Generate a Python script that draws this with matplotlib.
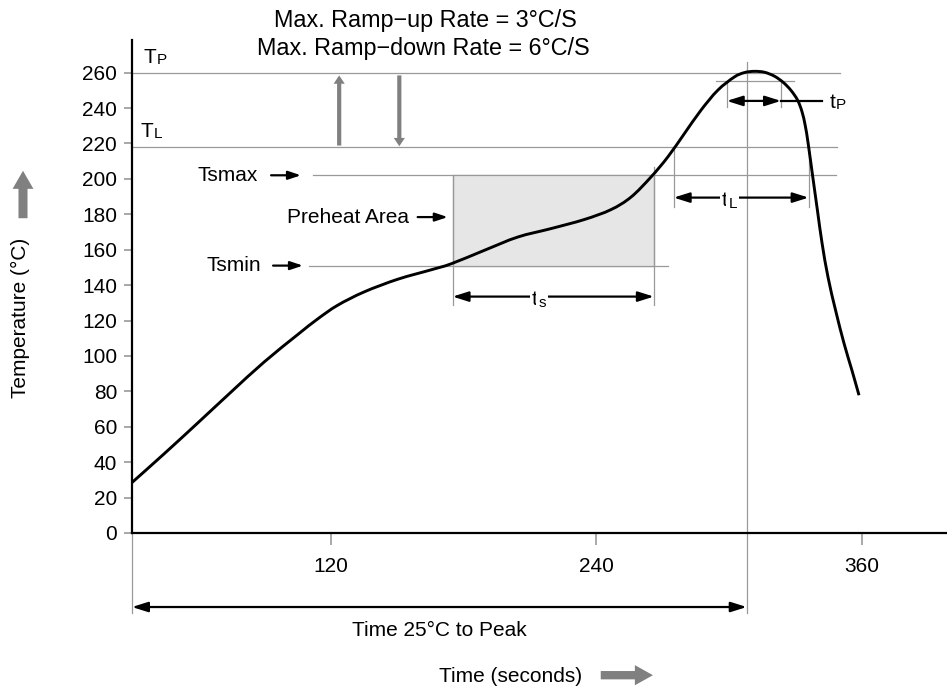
import matplotlib.pyplot as plt
import numpy as np
from matplotlib.path import Path
from matplotlib.patches import PathPatch, FancyArrowPatch

plt.rcParams['font.family'] = ['Liberation Sans', 'DejaVu Sans']
plt.rcParams['font.size'] = 15

# reflow profile
time_s = [30, 44.6, 59.7, 74.8, 89.8, 104.9, 114, 123, 135.1, 150.2, 165.2, 174.3,
          189.3, 204.4, 219.5, 234.5, 246.6, 255.7, 264.7, 272.3, 279.8, 287.3,
          294.9, 302.4, 307, 311.4, 316, 320.5, 324.5, 328, 331, 333, 334.5,
          335.8, 337.9, 340.0, 342.1, 344.8, 348.2, 352.0, 355.6, 358.8]
temp_c = [28.5, 44.8, 62.1, 79.6, 96.6, 112, 120.9, 128.6, 136.2, 143.3, 148.6, 152,
          159.6, 167.1, 171.9, 177, 182.6, 189.7, 201, 212.3, 225.5, 238.7,
          250, 257.5, 260, 260.7, 260.2, 258, 254.5, 250, 244.5, 238, 230,
          220, 201, 182.2, 163.6, 144.4, 125.8, 107.2, 91.9, 77.8]

y_ticks = list(range(0, 261, 20))
x_ticks = [120, 240, 360]

# temperature levels
T_P, T_L, TS_MAX, TS_MIN = 260, 218, 202, 151
T_P_BAND = 255
# time marks
t_start, t_peak = 30, 308
ts_start, ts_end = 175, 266
tl_start, tl_end = 275, 336
tp_start, tp_end = 299, 323.5

GRAY = '#999999'
DARK = '#808080'

fig = plt.figure(figsize=(9.47, 6.92), dpi=100)
ax = fig.add_axes([132 / 947, 159 / 692, 815 / 947, 493 / 692])
ax.set_xlim(30, 398.6)
ax.set_ylim(0, 278.4)

for s in ['top', 'right']:
    ax.spines[s].set_visible(False)
for s in ['left', 'bottom']:
    ax.spines[s].set_linewidth(1.6)
    ax.spines[s].set_color('black')

ax.set_yticks(y_ticks)
ax.set_xticks(x_ticks)
ax.tick_params(axis='y', length=5.8, width=1.2, color=GRAY, pad=5, labelsize=15)
ax.tick_params(axis='x', length=8.6, width=1.2, color=GRAY, pad=9, labelsize=15)


def hline(y, x0, x1):
    ax.plot([x0, x1], [y, y], color=GRAY, lw=0.9, zorder=1, clip_on=False)


def vline(x, y0, y1):
    ax.plot([x, x], [y0, y1], color=GRAY, lw=0.9, zorder=1, clip_on=False)


def arrow(x0, y0, x1, y1, style='-|>', color='black', lw=1.6, scale=10):
    ax.annotate('', xy=(x1, y1), xytext=(x0, y0),
                arrowprops=dict(arrowstyle=style, color=color, lw=lw,
                                shrinkA=0, shrinkB=0, mutation_scale=scale),
                annotation_clip=False)


def sub_label(x, y, main, sub, drop=1, white=False):
    # main letter + smaller subscript, baseline at y
    bb = dict(facecolor='white', edgecolor='none', pad=1.5) if white else None
    t = ax.text(x, y, main, ha='left', va='baseline', fontsize=15, zorder=6, bbox=bb)
    ax.annotate(sub, xy=(1, 0), xycoords=t, xytext=(0.5, 4.4 - drop),
                textcoords='offset pixels', ha='left', va='baseline',
                fontsize=11, zorder=6, bbox=bb)


# reference lines
hline(T_P, 30, 350)
hline(T_L, 30, 349)
hline(TS_MAX, 111.7, 348.4)
hline(TS_MIN, 110, 272.3)
hline(T_P_BAND, 294.1, 329.4)

# preheat box
ax.add_patch(plt.Rectangle((ts_start, TS_MIN), ts_end - ts_start, TS_MAX - TS_MIN,
                           facecolor='#e6e6e6', edgecolor=GRAY, lw=0.9, zorder=1))
vline(ts_start, 128.5, TS_MAX)
vline(ts_end, 128.5, 206.7)

vline(tl_start, 184, T_L)
vline(tl_end, 184, T_L)
vline(tp_start, 240.5, T_P_BAND)
vline(tp_end, 240.5, T_P_BAND)
vline(t_peak, -45.3, 266)
vline(t_start, -45.3, 0)

# curve, smooth path through the read points
pts = np.column_stack([time_s, temp_c])
P = np.vstack([pts[0], pts, pts[-1]])
verts, codes = [pts[0]], [Path.MOVETO]
for i in range(1, len(P) - 2):
    c1 = P[i] + (P[i + 1] - P[i - 1]) / 6
    c2 = P[i + 1] - (P[i + 2] - P[i]) / 6
    verts += [c1, c2, P[i + 1]]
    codes += [Path.CURVE4] * 3
ax.add_patch(PathPatch(Path(verts, codes), facecolor='none', edgecolor='black',
                       lw=2.1, zorder=4))

# dimension arrows
head = '<|-|>,head_length=0.95,head_width=0.3'
arrow(ts_start, 133.5, ts_end, 133.5, head)
sub_label(210.9, 128.9, 't', 's', drop=3, white=True)
arrow(tl_start, 189.4, tl_end, 189.4, head)
sub_label(296.8, 184.4, 't', 'L', drop=2, white=True)
arrow(tp_start, 244, tp_end, 244, head)
ax.plot([tp_end, 342], [244, 244], color='black', lw=1.6, zorder=3)
sub_label(345.5, 239.8, 't', 'P', drop=1)

arrow(t_start, -41.8, t_peak, -41.8, head)
ax.text(168.8, -55.3, 'Time 25°C to Peak', ha='center', va='center')

# level labels
sub_label(35.4, 265.2, 'T', 'P', drop=1)
sub_label(33.9, 223.4, 'T', 'L', drop=1)

small = '-|>,head_length=0.75,head_width=0.25'
ax.text(87, TS_MAX, 'Tsmax', ha='right', va='center')
arrow(92.9, TS_MAX, 106.4, TS_MAX, small)
ax.text(155.3, 178.4, 'Preheat Area', ha='right', va='center')
arrow(159.2, 178.4, 172.8, 178.4, small)
ax.text(88.3, TS_MIN, 'Tsmin', ha='right', va='center')
arrow(93.8, TS_MIN, 107.3, TS_MIN, small)

# ramp rate arrows
ramp = 'simple,head_length=0.6,head_width=0.8,tail_width=0.3'
arrow(123.7, 218.8, 123.7, 258.4, ramp, color=DARK, lw=0)
arrow(150.9, 258.4, 150.9, 218.4, ramp, color=DARK, lw=0)
ax.text(162.5, 289.5, 'Max. Ramp−up Rate = 3°C/S', ha='center', va='center',
        fontsize=16.8)
ax.text(162.0, 273.6, 'Max. Ramp−down Rate = 6°C/S', ha='center', va='center',
        fontsize=16.8)

# axis titles with big arrows
ax.text(201.4, -81.3, 'Time (seconds)', ha='center', va='center')
big = 'simple,head_length=1.3,head_width=1.45,tail_width=0.6'
arrow(242, -80.3, 265.6, -80.3, big, color=DARK, lw=0)

fig.text(20.7 / 947, 1 - 318 / 692, 'Temperature (°C)', rotation=90,
         ha='center', va='center', fontsize=15)
fig.patches.append(FancyArrowPatch(
    (23, 471), (23, 524), transform=None,
    arrowstyle='simple,head_length=1.3,head_width=1.5,tail_width=0.65',
    mutation_scale=10, color=DARK, lw=0))

fig.savefig('out.png', dpi=100)
